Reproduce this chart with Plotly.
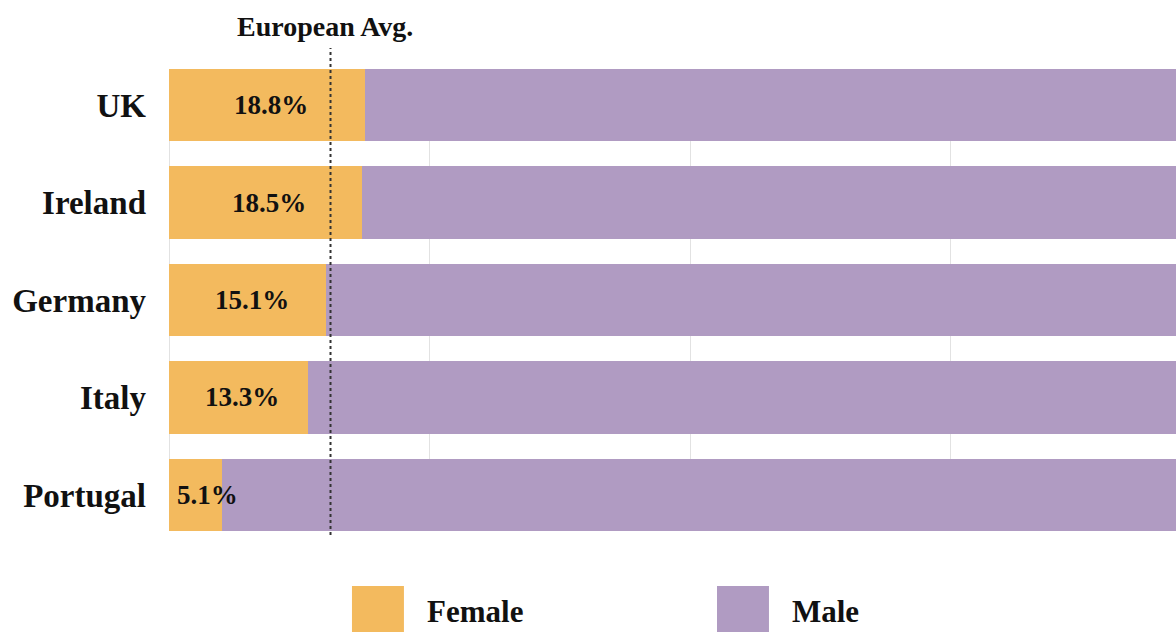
import plotly.graph_objects as go

countries = ["UK", "Ireland", "Germany", "Italy", "Portugal"]
female = [18.8, 18.5, 15.1, 13.3, 5.1]
male = [round(100 - v, 1) for v in female]
european_avg = 15.5
grid_ticks = [0, 25, 50, 75, 100]

FEMALE_C = "#F3BA5E"
MALE_C = "#B09BC2"
FONT = "Liberation Serif"
TXT = "#111111"

fig = go.Figure()
fig.add_trace(go.Bar(y=countries, x=female, orientation="h", name="Female",
                     marker=dict(color=FEMALE_C, line=dict(width=0)),
                     hoverinfo="skip", showlegend=False))
fig.add_trace(go.Bar(y=countries, x=male, orientation="h", name="Male",
                     marker=dict(color=MALE_C, line=dict(width=0)),
                     hoverinfo="skip", showlegend=False))

annotations = []
for c, v in zip(countries, female):
    annotations.append(dict(x=max(v / 2, 3.7), y=c, xref="x", yref="y",
                            text=f"<b>{v}%</b>", showarrow=False, xshift=4 if v > 8 else 0,
                            font=dict(family=FONT, size=27, color=TXT)))

annotations.append(dict(x=european_avg, y=1.091, xref="x", yref="paper",
                        text="<b>European Avg.</b>", showarrow=False,
                        xanchor="center", yanchor="middle", xshift=-6,
                        font=dict(family=FONT, size=28, color=TXT)))

# legend (custom swatches)
legend_items = [("Female", FEMALE_C, 0.1817), ("Male", MALE_C, 0.5442)]
shapes = []
for name, col, px in legend_items:
    shapes.append(dict(type="rect", xref="paper", yref="paper",
                       x0=px, x1=px + 0.0516, y0=-0.26, y1=-0.119,
                       fillcolor=col, line=dict(width=0), layer="above"))
    annotations.append(dict(x=px + 0.0725, y=-0.1753, xref="paper", yref="paper",
                            text=f"<b>{name}</b>", showarrow=False,
                            xanchor="left", yanchor="middle",
                            font=dict(family=FONT, size=31, color=TXT)))

shapes.append(dict(type="line", xref="x", yref="paper",
                   x0=european_avg, x1=european_avg, y0=-0.0087, y1=1.0455,
                   line=dict(color="#333333", width=2, dash="dot"), layer="above"))

fig.update_layout(
    width=1176, height=632,
    barmode="stack", bargap=0.26,
    margin=dict(l=169, r=0, t=69, b=101),
    plot_bgcolor="white", paper_bgcolor="white",
    annotations=annotations, shapes=shapes,
    showlegend=False,
    xaxis=dict(range=[0, 96.64], tickvals=grid_ticks, showticklabels=False,
               showgrid=True, gridcolor="#e2e2e2", gridwidth=1,
               zeroline=True, zerolinecolor="#e2e2e2", zerolinewidth=1,
               fixedrange=True),
    yaxis=dict(range=[4.37, -0.37], categoryorder="array", categoryarray=countries,
               tickfont=dict(family=FONT, size=33, color=TXT),
               ticklabelstandoff=22, showgrid=False, zeroline=False,
               tickprefix="<b>", ticksuffix="</b>", fixedrange=True),
)

fig.write_html("out.html", config={"displayModeBar": False},
               post_script="document.body.style.margin='0';document.body.style.overflow='hidden';")
